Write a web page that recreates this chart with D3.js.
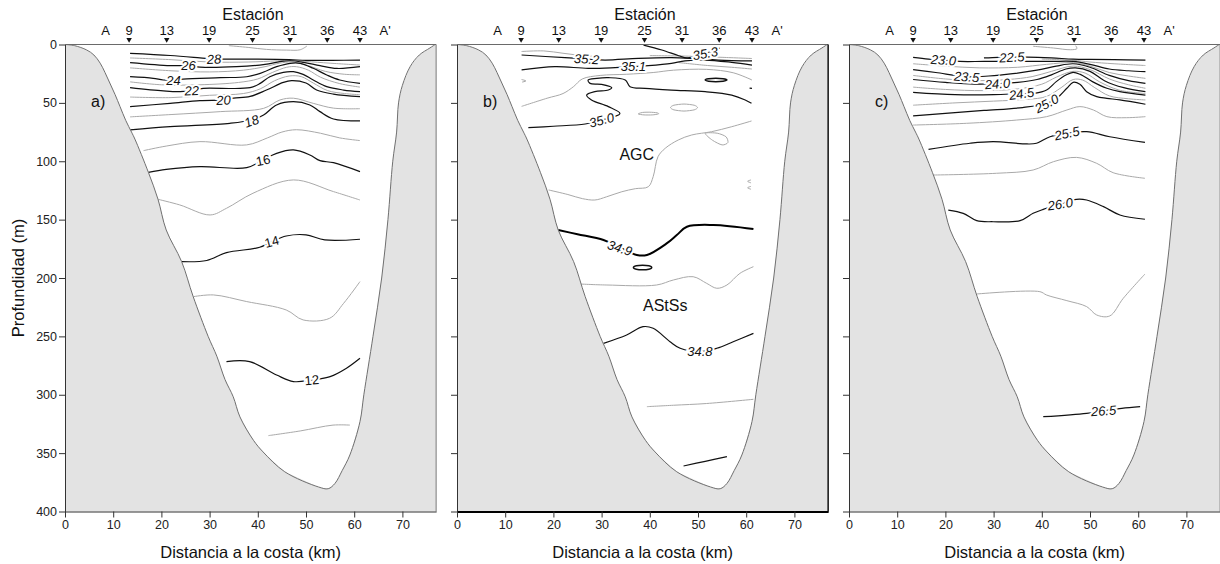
<!DOCTYPE html>
<html>
<head>
<meta charset="utf-8">
<script src="https://cdn.jsdelivr.net/npm/d3@7"></script>
<style>
  body { margin: 0; background: #fff; }
  svg { display: block; font-family: "Liberation Sans", Arial, sans-serif; }
</style>
</head>
<body>
<div id="root"></div>
<script>
// section A-A', three panels: temperature, salinity, sigma-t
var W = 1220, H = 564;
var xDomain = [0, 77], yDomain = [0, 400];
var xTicks = [0, 10, 20, 30, 40, 50, 60, 70];
var yTicks = [0, 50, 100, 150, 200, 250, 300, 350, 400];
var stationNames = ['A', '9', '13', '19', '25', '31', '36', '43', "A'"];
var stationKm = [8.4, 13.3, 21.1, 29.9, 38.9, 46.7, 54.4, 61.2, 66.4];
var panelNames = ['a)', 'b)', 'c)'];

// bottom profile (km, m)
var bottom = [[0,0],[2,1],[4.5,4.7],[6,9],[7.3,16],[8.3,24],[9.3,33],[10.4,43],[11.4,53],[12.6,65],[13.8,75],[14.5,81],
  [17.3,109.5],[19.3,132.6],[21,158.9],[24.2,186],[26.6,216],[29.7,250],[31.5,267],[33.2,287],[34.9,301.7],[36.3,319],
  [39.1,339],[41.1,349],[45.6,366],[52.6,379],[54.6,380.5],[56,376],[57.5,365],[59.1,351.6],[61.2,323],[62,300],
  [63.9,250],[65.7,200],[67,150],[68,100],[68.8,75],[69.2,50],[70,35],[71.6,19],[73.5,9],[75.7,3],[76.8,0]];

// a) temperature
var tempMajor = {
  28: [[13.5,7.6],[21.8,9.4],[28,11.4],[30.9,12.4],[34,12.5],[40,12.6],[46.5,13],[50,13.6],[55.5,13.6],[61.2,13.3]],
  26: [[13.5,15.5],[21.8,18.1],[25.6,18.1],[28,19.4],[35.6,19],[41.5,17],[44.6,14.7],[46.7,13.9],[49.5,15.3],[52.9,18.1],[56.4,20.5],[61.2,19]],
  24: [[13.5,27.6],[18.3,29],[20.4,30.4],[22.5,30.4],[24.5,29.6],[32.2,28.4],[37.7,27.6],[40.5,24.7],[43.9,19],[46.7,16.1],[48.8,16.1],[51.5,20.4],[54.3,26.1],[57,30.4],[61.2,33.3]],
  22: [[13.5,37],[20.4,39.8],[23.9,40.4],[26.3,39],[28.7,37.5],[38.4,37],[40.5,33.3],[42.5,27.6],[45.3,23.8],[47.4,23.3],[49.4,25.6],[51.5,30.4],[54.3,36.1],[57.8,39],[61.2,40.4]],
  20: [[13.5,53.2],[21.8,50.4],[28,48],[32.9,47.5],[35,46],[38.4,44.5],[41.8,39],[45.3,32.5],[47,31],[50,33],[52.2,39],[55.7,42.5],[61.2,44.7]],
  18: [[13.5,73.2],[21.8,70.4],[34.2,67.5],[38.7,64.7],[41.2,60.4],[43.9,51.8],[47.4,49],[50.8,51.8],[52.9,57.5],[55.7,63.8],[61.2,65.5]],
  16: [[17.3,109.5],[21,107],[28,104.6],[37.7,105.5],[41,99],[43.9,93.2],[47.4,90.3],[50.8,94.6],[52.9,99.5],[55.7,101.2],[61.2,108.9]],
  14: [[24.2,186],[29.4,185],[33.5,178.3],[40.4,173.7],[42.9,168.8],[45.9,164],[50,163],[53.9,167.4],[61.2,166.8]],
  12: [[33.5,271.6],[38.3,271.6],[43.9,283.1],[47.4,288.7],[51.2,287.3],[55,284.5],[58.4,277.3],[61.2,268.8]]
};
var tempMinor = {
  29: [[34,1],[38,2.5],[41.8,4.2],[46,4.8],[48.8,4.5],[50.2,1.3]],
  27: [[13.5,11.5],[22,13],[30,15],[38,15],[44,14],[47,13.5],[50,14.5],[55,16],[61.2,17.6]],
  25: [[13.5,20],[22,22.5],[30,23.5],[37,22],[41.5,19],[44.5,16],[47,15],[50,17.5],[54,23],[58,25.5],[61.2,26]],
  23: [[13.5,32],[20,34.5],[28,34.5],[36,32.5],[40,29.5],[43,24],[46,19.5],[48,19],[50.5,22],[53,28],[57,33.5],[61.2,36.5]],
  21: [[13.5,45],[22,45.5],[30,43.5],[37,42],[40.5,38],[43.5,31],[46.5,27],[49,27.5],[51.5,33],[54.5,39.5],[58,42],[61.2,43]],
  19: [[13.5,62],[22,60],[32.2,57.5],[41.2,54.7],[44.6,47.5],[47.4,46],[51.5,50.4],[55.7,54.5],[61.2,55]],
  17: [[16.3,90.9],[21,87],[28,83.2],[37.7,86],[42,80],[45,75],[48,73],[53,76],[57,80],[61.2,82.3]],
  15: [[19.3,132.6],[23.8,137.4],[30.1,146],[33.5,140.3],[39,127.4],[47.4,116],[55.7,126],[61.2,133.2]],
  13: [[26.6,216],[30.8,214.5],[37.7,220.2],[45.9,227.4],[49.4,235.9],[54.9,234.5],[57.8,221.7],[61.2,203.1]],
  11: [[42.2,335],[48.8,331],[55.6,326],[59.1,326]]
};
var tempLabels = [[28,30.9,12.4],[26,25.6,18.1],[24,22.5,30.4],[22,26.3,39.4],[20,32.9,47.5],[18,38.7,65.5],[16,41.1,99],[14,42.9,168.8],[12,51.2,287.3]];

// b) salinity
var salMajor = [
  [[38.7,0.5],[42.5,4.7],[46,9.6],[47.7,11.5],[50,10],[51.5,7.6],[53.5,5],[54.5,3]],
  [[13.4,9],[22.4,11.3],[26.9,12.4],[30.7,13.3],[37.6,11.9],[44.5,11.3],[48.7,11.9],[54.2,13.3],[61.2,14.1]],
  [[13.4,21.8],[20.3,19],[27.2,20.4],[32.8,19.8],[36.6,19],[39.7,18.1],[44.5,16.1],[47.3,14.1],[51.5,13.3],[57,15.3],[61.2,17.6]],
  [[14.8,71.2],[20,70],[26.6,68.1],[30,64.7],[32.5,62],[33.8,59],[31.4,53.2],[27.9,47.5],[26.9,43.3],[28.6,40.4],[31.4,39],[32.1,37],[30,34.1],[27.6,33.3],[27.2,30.4],[29,29],[31.4,28.4],[34.9,30.4],[35.9,36.1],[39,37.5],[44.5,39],[51.5,40.4],[57,43.3],[59.8,47.5],[61.1,50.4]],
  [[60.7,37.3],[61.2,37.6]],
  [[30.4,256],[35.2,248.8],[38.6,241.7],[40.7,243.1],[44.2,254.6],[46.3,260.2],[50.4,263.1],[53.9,260.2],[57.3,254.6],[61.5,247.4]],
  [[47,361],[51.5,357],[56,353]]
];
var salThick = [[21,158.9],[25,162.5],[30.4,167.5],[33.8,174],[37.3,180.3],[39.4,180.3],[43.5,170.4],[45.6,163.2],[47.7,156.1],[53.2,154.6],[61.5,158.1]];
var salLoopsMajor = [
  [[51.5,30.4],[52.2,29.4],[53.7,29],[55.2,29.4],[56,30.4],[55.2,31.4],[53.7,31.8],[52.2,31.4]],
  [[36.6,191],[37.2,189.5],[38.5,189],[39.8,189.5],[40.4,191],[39.8,192.5],[38.5,193],[37.2,192.5]]
];
var salMinor = [
  [[13.4,6],[18,5.5],[22,7.5],[26,9.5],[28,10]],
  [[40,9.5],[48,10],[55,11],[61.2,12]],
  [[46,15.5],[52,18],[57,19.5],[61.2,21]],
  [[13.4,53],[18.7,46],[22,42],[24.2,36],[26,29.5],[29.7,26.5],[35.2,25.5],[40.7,24],[44.9,22],[51.8,21.3],[57.3,24.2],[61.2,30.4]],
  [[13.4,30],[14.3,31.2],[13.5,32.2]],
  [[19,124.6],[23,128.5],[26,132],[28.6,133.2],[31,130.5],[34.2,126.1],[37,123.5],[39.7,121.8],[40.7,113.2],[41.7,96.1],[43.2,88.9],[45.9,81.8],[48.7,77.5],[52.8,74.7],[57,70.4],[61.1,65.5]],
  [[61,116],[60.3,117.2],[61,118.5]],
  [[61,121.5],[60.3,122.7],[61,124]],
  [[25.2,205.1],[31.1,206],[41.4,206],[44.9,201.7],[49,198.9],[51.8,204.6],[53.9,208.8],[56,206],[58.7,196],[61.5,190.3]],
  [[39.4,310.2],[44.9,309],[51.8,307.5],[61.5,303.9]]
];
var salLoopsMinor = [
  [[44.3,54],[45,52],[47.1,51],[49.2,52],[49.9,54],[49.2,56],[47.1,57],[45,56]],
  [[37.6,59.5],[38.5,58.2],[40,58],[41.5,58.5],[41.8,59.5],[40.5,60.3],[38.8,60.3]],
  [[51.5,76],[53,82],[55,86],[56.2,84],[55.8,79],[54,76]]
];
var salLabels = [['35.3',51.5,7.6],['35.2',26.9,12.4],['35.1',36.6,19],['35.0',30,64.7],['34.9',33.8,174.2],['34.8',50.4,263.1]];
var waterMasses = [['AGC',37.3,93.8],['AStSs',43.2,223]];

// c) sigma-t
var sigMajor = {
  '22.5': [[28,11.5],[31,11],[33.8,10.8],[37,10.8],[42,11.5],[46.5,12.5],[50,12.8],[55,13],[61.5,13.3]],
  '23.0': [[13.3,11],[16.5,12.5],[19.6,13.3],[23,14.5],[28,14.5],[35,14.5],[42,14.5],[46.5,14.5],[50,17],[54,21],[58,22.5],[61.5,23.3]],
  '23.5': [[13.3,21.5],[18,24],[24.4,27.6],[29,27],[34,25],[39,22],[43,18.5],[46.5,16.5],[50,19.5],[54,26.5],[58,31],[61.5,33.3]],
  '24.0': [[13.3,30],[20,32.5],[26,34],[30.8,33.5],[35,32.5],[39,30],[42,26],[45,21],[47,20],[50,23],[53,31],[57,37],[61.5,40.4]],
  '24.5': [[13.3,41],[22,43],[30,43],[35.8,42],[38.5,41.8],[41,39],[43,31.8],[45,26.1],[46.5,23.8],[48,25.6],[50.5,31.8],[53.5,37.5],[56.2,40.4],[61.5,43.3]],
  '25.0': [[13.3,61.2],[20,59],[28,56.5],[36,54],[41,50.5],[43.1,46],[45.2,37.5],[46.5,32.4],[47.9,34.1],[49.3,40.4],[51.4,44.7],[53.5,46.1],[56.2,47.5],[61.5,51.2]],
  '25.5': [[16.5,89.8],[25.1,84.6],[29.9,83.2],[36.9,85.2],[38.9,84.6],[41.7,79],[45.2,76.1],[49.3,74.7],[54.1,79],[61.4,83.8]],
  '26.0': [[20.6,141.8],[23.7,144.6],[26.5,150.9],[29.9,151.8],[35.5,150.9],[38.2,144.6],[40.3,141.2],[43.8,136.6],[47.2,132.6],[49.3,133.2],[52.8,138.9],[56.2,146],[61.4,149.7]],
  '26.5': [[40.3,318.8],[49.3,315.9],[52.8,313.6],[56.6,311.6],[60.4,310.2]]
};
var sigMinor = {
  '22.25': [[38.2,1.5],[42.4,3],[46,4.5],[47.3,3.5],[47,1]],
  '22.75': [[40,12.5],[46.5,13.5],[50,15],[55,16.5],[61.5,18]],
  '23.25': [[13.3,16.5],[20,18.5],[27,20],[35,19.5],[41,17],[46.5,15.5],[50,18.5],[54,24],[58,27],[61.5,29]],
  '23.75': [[13.3,26.5],[20,29.5],[27,31],[33,30],[38,27.5],[42,23],[46.5,18.5],[50,21.5],[54,29.5],[58,34.5],[61.5,37.5]],
  '24.25': [[13.3,36.5],[20,38.5],[28,39.5],[35,38],[40,34],[43,28],[46.5,23],[49,24.5],[52,32],[56,39],[61.5,42]],
  '24.75': [[13.3,52],[22,50],[30,48.5],[37,47],[41,44.5],[44,37],[46.5,30],[48.5,30.5],[51,37],[54,44],[58,46.5],[61.5,47.5]],
  '25.25': [[13.3,69],[24.4,67.5],[34.8,64.7],[41,61.8],[45.2,56.1],[47.9,53.2],[50.7,56.1],[53.5,61.8],[57.6,62.7],[61.5,61.8]],
  '25.75': [[17.5,111.8],[30.6,110.3],[38.2,107.5],[42.4,100.4],[47.2,96.7],[51.4,101.8],[54.8,109.8],[61.4,114.6]],
  '26.25': [[26.5,213.7],[39.6,211.7],[41,214.6],[45.2,219.4],[49.3,224.5],[51.4,231.7],[54.1,232.5],[56.9,217.4],[61.4,196.6]]
};
var sigLabels = [['22.5',33.8,10.8],['23.0',19.6,13.3],['23.5',24.4,27.6],['24.0',30.8,33.5],['24.5',35.8,42],['25.0',41,50.5],['25.5',45.2,76.1],['26.0',43.8,136.6],['26.5',52.8,313.6]];

// label rotation (deg), styling only
var labelAngle = {
  a: {28: -3, 26: 0, 24: 0, 22: -3, 20: -3, 18: -20, 16: -12, 14: -15, 12: -5},
  b: {'35.3': -10, '35.2': 3, '35.1': 0, '35.0': -15, '34.9': 18, '34.8': 0},
  c: {'22.5': -3, '23.0': 4, '23.5': 4, '24.0': -4, '24.5': -8, '25.0': -28, '25.5': -12, '26.0': -8, '26.5': -4}
};

var svg = d3.select('#root').append('svg').attr('width', W).attr('height', H);
var panelX = [65, 457, 849];
var pw = 77 * 4.82;
var y = d3.scaleLinear().domain(yDomain).range([44.5, 511.5]);

function drawPanel(i, majors, minors, labels, key) {
  var g = svg.append('g').attr('transform', 'translate(' + panelX[i] + ',0)');
  var x = d3.scaleLinear().domain(xDomain).range([0, pw]);
  var line = d3.line().x(function (d) { return x(d[0]); }).y(function (d) { return y(d[1]); })
    .curve(d3.curveCatmullRom.alpha(0.5));
  var loop = d3.line().x(function (d) { return x(d[0]); }).y(function (d) { return y(d[1]); })
    .curve(d3.curveCardinalClosed.tension(0.2));

  g.append('clipPath').attr('id', 'clip' + i).append('rect')
    .attr('x', 0).attr('y', y(0)).attr('width', pw).attr('height', y(400) - y(0));
  var plot = g.append('g').attr('clip-path', 'url(#clip' + i + ')');

  plot.append('rect').attr('x', 0).attr('y', y(0)).attr('width', pw).attr('height', y(400) - y(0)).attr('fill', '#fff');

  minors.lines.forEach(function (p) {
    plot.append('path').attr('d', line(p)).attr('fill', 'none').attr('stroke', '#a9a9a9').attr('stroke-width', 1);
  });
  (minors.loops || []).forEach(function (p) {
    plot.append('path').attr('d', loop(p)).attr('fill', 'none').attr('stroke', '#a9a9a9').attr('stroke-width', 1);
  });
  majors.lines.forEach(function (p) {
    plot.append('path').attr('d', line(p)).attr('fill', 'none').attr('stroke', '#111').attr('stroke-width', 1.2);
  });
  (majors.loops || []).forEach(function (p) {
    plot.append('path').attr('d', loop(p)).attr('fill', 'none').attr('stroke', '#111').attr('stroke-width', 1.5);
  });
  (majors.thick || []).forEach(function (p) {
    plot.append('path').attr('d', line(p)).attr('fill', 'none').attr('stroke', '#000').attr('stroke-width', 2);
  });

  // land
  var land = bottom.concat([[77.5, 0], [77.5, 401], [-0.5, 401], [-0.5, 0]]);
  plot.append('path').attr('d', d3.line().x(function (d) { return x(d[0]); }).y(function (d) { return y(d[1]); })(land))
    .attr('fill', '#e3e3e3').attr('stroke', 'none');
  plot.append('path').attr('d', d3.line().x(function (d) { return x(d[0]); }).y(function (d) { return y(d[1]); }).curve(d3.curveCatmullRom)(bottom))
    .attr('fill', 'none').attr('stroke', '#6f6f6f').attr('stroke-width', 1);

  // contour labels
  labels.forEach(function (l) {
    var a = labelAngle[key][l[0]] || 0;
    g.append('text').attr('transform', 'translate(' + x(l[1]) + ',' + y(l[2]) + ') rotate(' + a + ')')
      .attr('text-anchor', 'middle').attr('dy', '0.36em')
      .attr('font-size', 13).attr('font-style', key === 'a' && +l[0] < 17 ? 'normal' : 'italic')
      .attr('fill', '#111').attr('stroke', '#fff').attr('stroke-width', 4).attr('paint-order', 'stroke')
      .text(l[0]);
  });

  // frame
  g.append('line').attr('x1', 0).attr('x2', pw).attr('y1', y(0)).attr('y2', y(0)).attr('stroke', '#6a6a6a').attr('stroke-width', 1.2);
  g.append('line').attr('x1', pw).attr('x2', pw).attr('y1', y(0)).attr('y2', y(400))
    .attr('stroke', i === 1 ? '#000' : '#7a7a7a').attr('stroke-width', i === 1 ? 1.4 : 1);

  var yAxis = d3.axisLeft(y).tickValues(yTicks).tickSize(6).tickSizeOuter(0).tickPadding(2);
  if (i > 0) yAxis.tickFormat('');
  var ya = g.append('g').call(yAxis);
  var xa = g.append('g').attr('transform', 'translate(0,' + y(400) + ')')
    .call(d3.axisBottom(x).tickValues(xTicks).tickSize(6).tickSizeOuter(0).tickPadding(3));
  [ya, xa].forEach(function (ax) {
    ax.selectAll('text').attr('font-size', 12.5).attr('fill', '#222').attr('font-family', '"Liberation Sans", Arial, sans-serif');
    ax.selectAll('line').attr('stroke', '#333');
    ax.select('.domain').attr('stroke', '#333');
  });
  if (i === 1) xa.select('.domain').attr('stroke', '#000').attr('stroke-width', 2);

  // stations
  var sym = d3.symbol().type(d3.symbolTriangle).size(13);
  stationKm.forEach(function (k, j) {
    g.append('text').attr('x', x(k)).attr('y', 34.5).attr('text-anchor', 'middle')
      .attr('font-size', 13).attr('fill', '#111').text(stationNames[j]);
    if (j > 0 && j < stationKm.length - 1) {
      g.append('path').attr('d', sym).attr('transform', 'translate(' + x(k) + ',39.5) rotate(180)').attr('fill', '#111');
    }
  });
  g.append('text').attr('x', x(39)).attr('y', 20).attr('text-anchor', 'middle').attr('font-size', 16).attr('fill', '#111').text('Estación');
  g.append('text').attr('x', x(38.5)).attr('y', 558).attr('text-anchor', 'middle').attr('font-size', 16.5).attr('fill', '#111').text('Distancia a la costa (km)');
  g.append('text').attr('x', 26).attr('y', 107).attr('font-size', 16).attr('fill', '#111').text(panelNames[i]);
  return { g: g, x: x };
}

function vals(o) { return Object.keys(o).map(function (k) { return o[k]; }); }

drawPanel(0, { lines: vals(tempMajor) }, { lines: vals(tempMinor) }, tempLabels, 'a');
var pb = drawPanel(1, { lines: salMajor, loops: salLoopsMajor, thick: [salThick] }, { lines: salMinor, loops: salLoopsMinor }, salLabels, 'b');
waterMasses.forEach(function (m) {
  pb.g.append('text').attr('x', pb.x(m[1])).attr('y', y(m[2])).attr('dy', '0.36em').attr('text-anchor', 'middle')
    .attr('font-size', 16).attr('fill', '#111').text(m[0]);
});
drawPanel(2, { lines: vals(sigMajor) }, { lines: vals(sigMinor) }, sigLabels, 'c');

svg.append('text').attr('transform', 'translate(24,278) rotate(-90)').attr('text-anchor', 'middle')
  .attr('font-size', 16.5).attr('fill', '#111').text('Profundidad (m)');
</script>
</body>
</html>
